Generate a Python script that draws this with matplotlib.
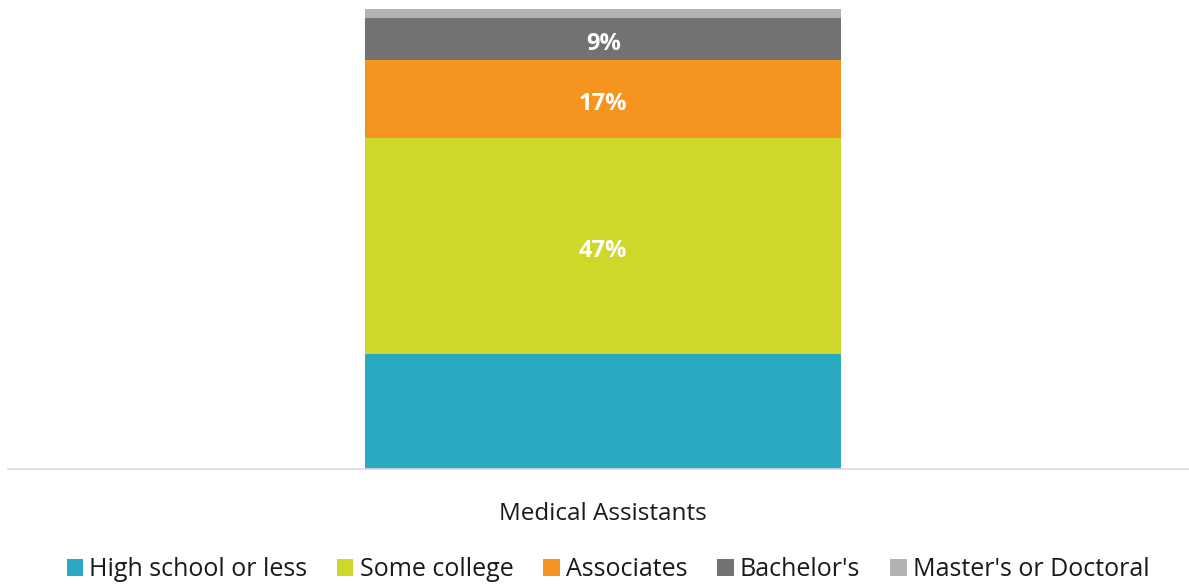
import matplotlib
matplotlib.use("Agg")
import matplotlib.pyplot as plt
from matplotlib.patches import Patch
from matplotlib.transforms import ScaledTranslation

plt.rcParams['font.family'] = ['Open Sans', 'DejaVu Sans']

# Education level shares for the occupation
categories = ["Medical Assistants"]
series_names = ["High school or less", "Some college", "Associates", "Bachelor's", "Master's or Doctoral"]
series_values = [25, 47, 17, 9, 2]
series_colors = ["#29AAC0", "#CED829", "#F5951F", "#717271", "#B2B2B2"]
show_labels = [False, True, True, True, False]

fig = plt.figure(figsize=(11.89, 5.84), dpi=100)
ax = fig.add_axes([8 / 1189, (584 - 469) / 584, 1 - 8 / 1189, (469 - 9) / 584])

# small downward nudge so the value labels sit optically centred
label_shift = ax.transData + ScaledTranslation(0, -2 / 100, fig.dpi_scale_trans)

x = [0]
bottom = 0
for name, val, col, show in zip(series_names, series_values, series_colors, show_labels):
    ax.bar(x, [val], bottom=[bottom], width=0.403, color=col, label=name, zorder=2)
    if show:
        ax.text(0, bottom + val / 2, f"{val}%", ha="center", va="center_baseline",
                color="white", fontsize=17, fontweight="bold", zorder=3,
                transform=label_shift)
    bottom += val

ax.set_ylim(0, 100)
ax.set_xlim(-0.504, 0.496)
ax.set_xticks(x)
ax.set_xticklabels(categories, fontsize=17.5, color="#1a1a1a")
ax.tick_params(axis="x", length=0, pad=23.5)
ax.set_yticks([])
for s in ["top", "right", "left"]:
    ax.spines[s].set_visible(False)
ax.spines["bottom"].set_color("#D9D9D9")
ax.spines["bottom"].set_linewidth(1.2)

handles = [Patch(facecolor=c, edgecolor="none") for c in series_colors]
fig.legend(handles, series_names, loc="center", bbox_to_anchor=(608 / 1189, 1 - 570 / 584),
           ncol=5, frameon=False, fontsize=18, handlelength=0.65, handleheight=0.65,
           handletextpad=0.25, columnspacing=1.2, labelcolor="#1a1a1a")

fig.savefig("out.png", dpi=100)
